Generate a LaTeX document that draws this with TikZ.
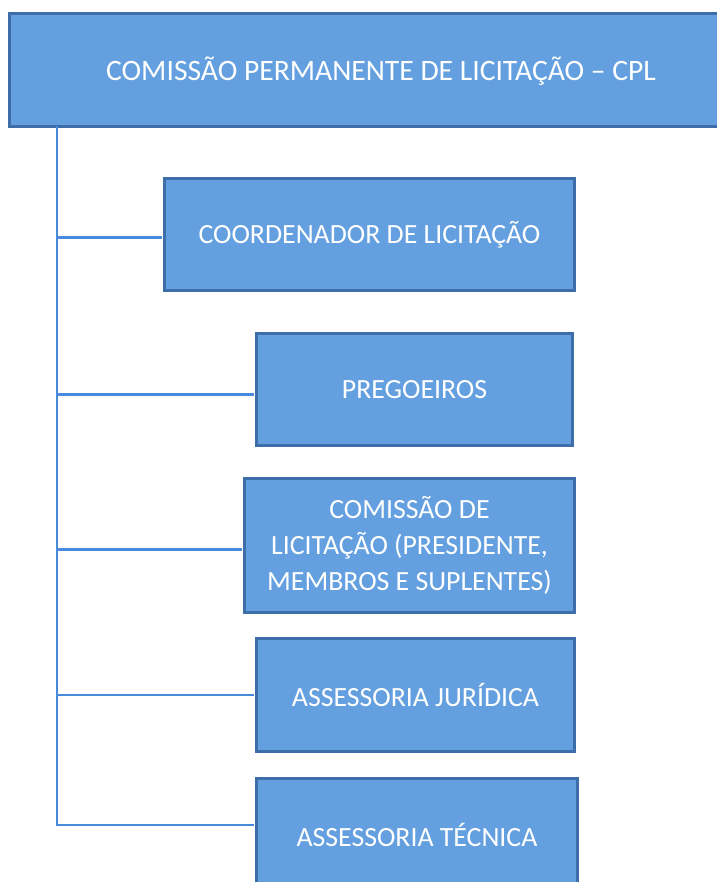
\documentclass[tikz,border=0pt]{standalone}
\usepackage{fontspec}
\setmainfont{Carlito}
\usetikzlibrary{calc}
\definecolor{boxfill}{RGB}{100,160,224}
\definecolor{boxdraw}{RGB}{62,110,170}
\definecolor{linkc}{RGB}{74,138,218}
\tikzset{
  orgbox/.style={draw=boxdraw, line width=3pt, fill=boxfill, text=white, anchor=north west,
    inner sep=0pt, align=center, font=\fontsize{27.8}{36}\selectfont},
  link/.style={draw=linkc, line width=2.2pt}
}
\begin{document}
\begin{tikzpicture}[x=1pt,y=-1pt]
\useasboundingbox (0,0) rectangle (716,882);
\fill[white] (0,0) rectangle (716,882);
\node[orgbox, minimum width=746pt, minimum height=113pt] (top) at (8,12) {};
\node[text=white, font=\fontsize{29.6}{36}\selectfont] (toplabel) at (381,71) {COMISSÃO PERMANENTE DE LICITAÇÃO – CPL};
\node[orgbox, minimum width=410pt, minimum height=112pt] (b2) at (163,177) {COORDENADOR DE LICITAÇÃO};
\node[orgbox, minimum width=316pt, minimum height=112pt] (b3) at (255,332) {PREGOEIROS};
\node[orgbox, minimum width=330pt, minimum height=134pt] (b4) at (243,477) {COMISSÃO DE\\LICITAÇÃO (PRESIDENTE,\\MEMBROS E SUPLENTES)};
\node[orgbox, minimum width=318pt, minimum height=113pt] (b5) at (255,637) {ASSESSORIA JURÍDICA};
\node[orgbox, minimum width=321pt, minimum height=113pt] (b6) at (255,777) {ASSESSORIA TÉCNICA};
\coordinate (tx) at (57,0);
\coordinate (j2) at ($(b2.west)+(-1.5,3)$);
\coordinate (j3) at ($(b3.west)+(-1.5,5)$);
\coordinate (j4) at ($(b4.west)+(-1.5,4)$);
\coordinate (j5) at ($(b5.west)+(-1.5,0)$);
\coordinate (j6) at ($(b6.west)+(-1.5,-10)$);
\draw[link] ($(top.south west -| tx)+(0,-1.5)$) |- (j6);
\draw[link] (j2) -- (j2 -| tx);
\draw[link] (j3) -- (j3 -| tx);
\draw[link] (j4) -- (j4 -| tx);
\draw[link] (j5) -- (j5 -| tx);
\end{tikzpicture}
\end{document}
